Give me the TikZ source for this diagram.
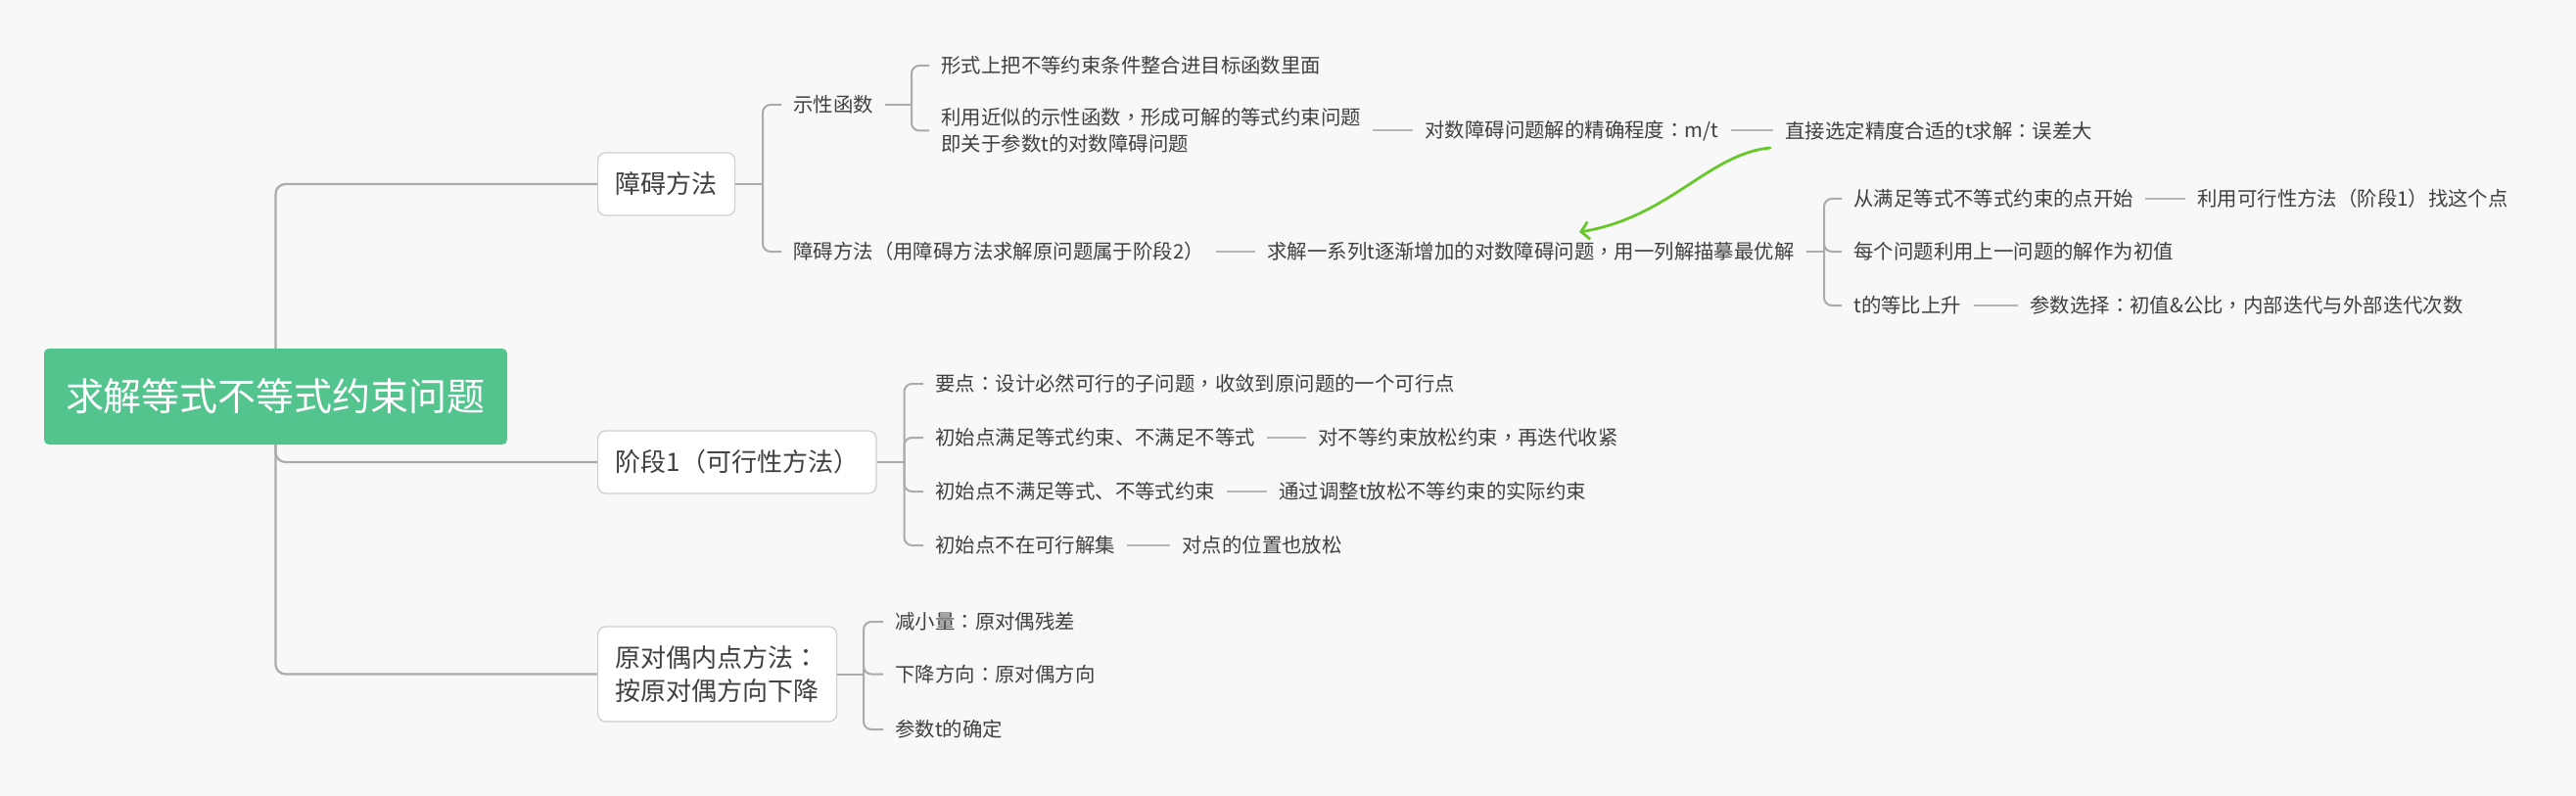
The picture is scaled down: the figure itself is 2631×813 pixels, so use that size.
\documentclass[tikz,border=0pt]{standalone}
\usepackage{fontspec}
\setmainfont{Noto Sans CJK SC}
\newfontfamily\tcpunct{Noto Sans CJK TC}
\newcommand\pq[1]{{\tcpunct #1}}
\usetikzlibrary{arrows.meta,calc}
\pgfdeclarelayer{bg}
\pgfdeclarelayer{lines}
\pgfsetlayers{bg,lines,main}
\definecolor{bgc}{HTML}{F8F8F8}
\definecolor{rootg}{HTML}{53C48E}
\definecolor{boxc}{HTML}{CDCDCD}
\definecolor{linec}{HTML}{ABABAB}
\definecolor{linkc}{HTML}{B5B5B5}
\definecolor{txt}{HTML}{404040}
\definecolor{arrowg}{HTML}{68C82A}
\tikzset{
  rootbox/.style={fill=rootg, rounded corners=2.5pt, text=white,
    font=\fontsize{19.5pt}{24pt}\selectfont, minimum width=236.5pt,
    minimum height=49pt, inner sep=0pt},
  topic/.style={draw=boxc, line width=0.6pt, fill=white, rounded corners=4pt,
    text=txt, font=\fontsize{13pt}{17pt}\selectfont, inner xsep=9pt,
    inner ysep=0pt, minimum height=32pt, anchor=west, align=left},
  leaf/.style={text=txt, font=\fontsize{10.2pt}{13.5pt}\selectfont,
    inner xsep=6pt, inner ysep=2pt, anchor=west, align=left},
  trunk/.style={draw=linec, line width=1.1pt, rounded corners=5pt},
  bracket/.style={draw=linec, line width=1pt, rounded corners=4pt},
  link/.style={draw=linkc, line width=1pt},
  hint/.style={draw=arrowg, line width=1.4pt, line cap=round,
    -{Straight Barb[length=4pt,width=9pt,line width=1.4pt]}}
}
\begin{document}
\begin{tikzpicture}[x=0.5pt,y=-0.5pt]
\useasboundingbox (0,0) rectangle (2631,813);
\begin{pgfonlayer}{bg}
\fill[bgc] (0,0) rectangle (2631,813);
\end{pgfonlayer}

% root and main topics
\node[rootbox] (root) at (281.5,405) {求解等式不等式约束问题};
\node[topic] (b1) at (610,188) {障碍方法};
\node[topic] (b2) at (610,472) {阶段1（可行性方法）};
\node[topic, minimum height=48.5pt] (b3) at (610,688.5) {原对偶内点方法\pq{：}\\按原对偶方向下降};

% branch 1
\node[leaf] (t11) at (798,107) {示性函数};
\node[leaf] (t12) at (798,257) {障碍方法（用障碍方法求解原问题属于阶段2）};
\node[leaf] (t111) at (949,67) {形式上把不等约束条件整合进目标函数里面};
\node[leaf] (t112) at (949,133.5) {利用近似的示性函数\pq{，}形成可解的等式约束问题\\即关于参数t的对数障碍问题};
\node[leaf] (t1121) at (1443,133.5) {对数障碍问题解的精确程度\pq{：}m/t};
\node[leaf] (t11211) at (1811,133.5) {直接选定精度合适的t求解\pq{：}误差大};
\node[leaf] (t121) at (1282,257) {求解一系列t逐渐增加的对数障碍问题\pq{，}用一列解描摹最优解};
\node[leaf] (t1211) at (1881,203) {从满足等式不等式约束的点开始};
\node[leaf] (t12111) at (2232,203) {利用可行性方法（阶段1）找这个点};
\node[leaf] (t1212) at (1881,257) {每个问题利用上一问题的解作为初值};
\node[leaf] (t1213) at (1881,312) {t的等比上升};
\node[leaf] (t12131) at (2061,312) {参数选择\pq{：}初值\&公比\pq{，}内部迭代与外部迭代次数};

% branch 2
\node[leaf] (t21) at (943,392) {要点\pq{：}设计必然可行的子问题\pq{，}收敛到原问题的一个可行点};
\node[leaf] (t22) at (943,447) {初始点满足等式约束、不满足不等式};
\node[leaf] (t221) at (1334,447) {对不等约束放松约束\pq{，}再迭代收紧};
\node[leaf] (t23) at (943,502) {初始点不满足等式、不等式约束};
\node[leaf] (t231) at (1294,502) {通过调整t放松不等约束的实际约束};
\node[leaf] (t24) at (943,557) {初始点不在可行解集};
\node[leaf] (t241) at (1195,557) {对点的位置也放松};

% branch 3
\node[leaf] (t31) at (902,635) {减小量\pq{：}原对偶残差};
\node[leaf] (t32) at (902,688.5) {下降方向\pq{：}原对偶方向};
\node[leaf] (t33) at (902,745) {参数t的确定};

% junction points
\coordinate (j1) at (779,188);
\coordinate (j11) at (931,107);
\coordinate (j121) at (1863,257);
\coordinate (j2) at (923.5,472);
\coordinate (j3) at (882,688.5);

\begin{pgfonlayer}{lines}
\draw[trunk] (root.center) |- (b1.west);
\draw[trunk] (root.center) |- (b2.west);
\draw[trunk] (root.center) |- (b3.west);

\draw[bracket] (b1.east) -- (j1);
\draw[bracket] (j1) |- (t11.west);
\draw[bracket] (j1) |- (t12.west);

\draw[bracket] (t11.east) -- (j11);
\draw[bracket] (j11) |- (t111.west);
\draw[bracket] (j11) |- (t112.west);

\draw[bracket] (t121.east) -- (j121);
\draw[bracket] (j121) |- (t1211.west);
\draw[bracket] (j121) |- (t1212.west);
\draw[bracket] (j121) |- (t1213.west);

\draw[bracket] (b2.east) -- (j2);
\draw[bracket] (j2) |- (t21.west);
\draw[bracket] (j2) |- (t22.west);
\draw[bracket] (j2) |- (t23.west);
\draw[bracket] (j2) |- (t24.west);

\draw[bracket] (b3.east) -- (j3);
\draw[bracket] (j3) |- (t31.west);
\draw[bracket] (j3) |- (t32.west);
\draw[bracket] (j3) |- (t33.west);

\draw[link] (t112.east |- t1121.west) -- (t1121.west);
\draw[link] (t1121.east) -- (t11211.west);
\draw[link] (t12.east) -- (t121.west);
\draw[link] (t1211.east) -- (t12111.west);
\draw[link] (t1213.east) -- (t12131.west);
\draw[link] (t22.east) -- (t221.west);
\draw[link] (t23.east) -- (t231.west);
\draw[link] (t24.east) -- (t241.west);
\end{pgfonlayer}

% green hint arrow
\coordinate (gs) at (1808,151);
\coordinate (ge) at (1613,237);
\draw[hint] (gs) .. controls (1745,157) and (1705,222) .. (ge);
\end{tikzpicture}
\end{document}
